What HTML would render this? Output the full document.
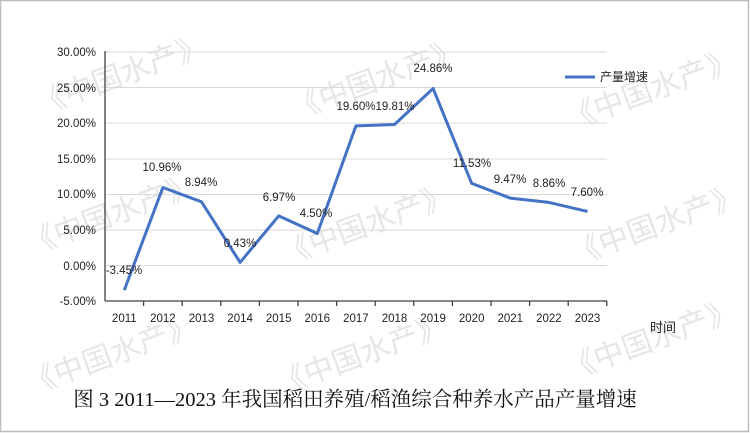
<!DOCTYPE html>
<html><head><meta charset="utf-8"><style>
html,body{margin:0;padding:0;background:#fff;}
svg{display:block;}
</style></head><body>
<svg width="750" height="433" viewBox="0 0 750 433" xmlns="http://www.w3.org/2000/svg" font-family="Liberation Sans, Noto Sans CJK SC, sans-serif">
<rect x="0.5" y="0.5" width="748" height="431" fill="#fff" stroke="#bdbdbd" stroke-width="1.5"/>
<g fill="#e6e6e6" font-size="30" font-family="Noto Sans CJK SC, sans-serif">
<text transform="translate(40,115) rotate(-20)">《中国水产》</text>
<text transform="translate(295,120) rotate(-20)">《中国水产》</text>
<text transform="translate(570,130) rotate(-20)">《中国水产》</text>
<text transform="translate(30,255) rotate(-20)">《中国水产》</text>
<text transform="translate(285,265) rotate(-20)">《中国水产》</text>
<text transform="translate(575,265) rotate(-20)">《中国水产》</text>
<text transform="translate(30,395) rotate(-20)">《中国水产》</text>
<text transform="translate(280,395) rotate(-20)">《中国水产》</text>
<text transform="translate(570,380) rotate(-20)">《中国水产》</text>
</g>
<g stroke="#d9d9d9" stroke-width="1">
<line x1="105" x2="607" y1="52" y2="52"/>
<line x1="105" x2="607" y1="87.5" y2="87.5"/>
<line x1="105" x2="607" y1="123" y2="123"/>
<line x1="105" x2="607" y1="159" y2="159"/>
<line x1="105" x2="607" y1="194.5" y2="194.5"/>
<line x1="105" x2="607" y1="230" y2="230"/>
<line x1="105" x2="607" y1="265.5" y2="265.5"/>
</g>
<g stroke="#404040" stroke-width="1.3">
<line x1="105" x2="105" y1="51" y2="301"/>
<line x1="105" x2="607" y1="301" y2="301"/>
<line x1="143.6" x2="143.6" y1="301" y2="306"/><line x1="182.2" x2="182.2" y1="301" y2="306"/>
<line x1="220.8" x2="220.8" y1="301" y2="306"/><line x1="259.4" x2="259.4" y1="301" y2="306"/>
<line x1="298" x2="298" y1="301" y2="306"/><line x1="336.6" x2="336.6" y1="301" y2="306"/>
<line x1="375.2" x2="375.2" y1="301" y2="306"/><line x1="413.8" x2="413.8" y1="301" y2="306"/>
<line x1="452.4" x2="452.4" y1="301" y2="306"/><line x1="491" x2="491" y1="301" y2="306"/>
<line x1="529.6" x2="529.6" y1="301" y2="306"/><line x1="568.2" x2="568.2" y1="301" y2="306"/>
<line x1="606.8" x2="606.8" y1="301" y2="306"/>
</g>
<g font-size="11.5" fill="#222" text-anchor="end">
<text x="96" y="56">30.00%</text><text x="96" y="92">25.00%</text>
<text x="96" y="127">20.00%</text><text x="96" y="163">15.00%</text>
<text x="96" y="198">10.00%</text><text x="96" y="234">5.00%</text>
<text x="96" y="270">0.00%</text><text x="96" y="305">-5.00%</text>
</g>
<g font-size="11.5" fill="#222" text-anchor="middle">
<text x="124.3" y="322">2011</text><text x="162.9" y="322">2012</text><text x="201.5" y="322">2013</text>
<text x="240.1" y="322">2014</text><text x="278.7" y="322">2015</text><text x="317.3" y="322">2016</text>
<text x="355.9" y="322">2017</text><text x="394.5" y="322">2018</text><text x="433.1" y="322">2019</text>
<text x="471.7" y="322">2020</text><text x="510.3" y="322">2021</text><text x="548.9" y="322">2022</text>
<text x="587.5" y="322">2023</text>
<text x="663" y="332" font-size="13">时间</text>
</g>
<polyline fill="none" stroke="#4472c4" stroke-width="3" stroke-linejoin="round" points="124.3,290.1 162.9,187.5 201.5,201.8 240.1,262.4 278.7,215.9 317.3,233.5 355.9,125.9 394.5,124.5 433.1,88.5 471.7,183.4 510.3,198.1 548.9,202.4 587.5,211.4"/>
<g font-size="11.5" fill="#222" text-anchor="middle">
<text x="124" y="274">-3.45%</text><text x="162" y="171">10.96%</text><text x="201" y="186">8.94%</text>
<text x="240" y="247">0.43%</text><text x="279" y="201">6.97%</text><text x="316" y="217">4.50%</text>
<text x="356" y="110">19.60%</text><text x="395" y="110">19.81%</text><text x="433" y="72">24.86%</text>
<text x="472" y="167">11.53%</text><text x="510" y="183">9.47%</text><text x="549" y="187">8.86%</text>
<text x="587" y="196">7.60%</text>
</g>
<line x1="565" x2="595" y1="77" y2="77" stroke="#4472c4" stroke-width="3"/>
<text x="600" y="81" font-size="12" fill="#222">产量增速</text>
<text x="355" y="406" text-anchor="middle" font-size="20.5" fill="#111" font-family="Liberation Serif, Noto Serif CJK SC, serif">图 3 2011—2023 年我国稻田养殖/稻渔综合种养水产品产量增速</text>
</svg>
</body></html>
